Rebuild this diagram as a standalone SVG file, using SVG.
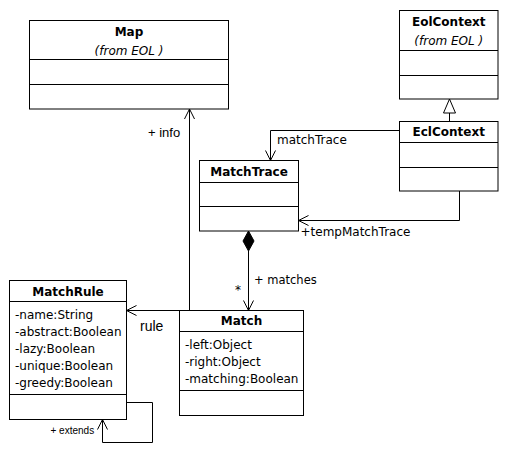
<svg xmlns="http://www.w3.org/2000/svg" width="506" height="449" viewBox="0 0 506 449">
<style>
.box{fill:#fff;stroke:#000;stroke-width:1}
.div{stroke:#000;stroke-width:1}
.t{font-family:"DejaVu Sans",Verdana,sans-serif;font-size:12px;font-weight:bold;text-anchor:middle}
.f{font-family:"DejaVu Sans",Verdana,sans-serif;font-size:12px;font-style:italic;text-anchor:middle}
.a{font-family:"DejaVu Sans",Verdana,sans-serif;font-size:12px}
.l{font-family:"DejaVu Sans",Verdana,sans-serif;font-size:12px}
.la{font-family:"Liberation Sans",Arial,sans-serif;font-size:13px}
.ln{fill:none;stroke:#000;stroke-width:1}
</style>
<rect width="506" height="449" fill="#fff"/>
<g id="Map">
<rect class="box" x="29.5" y="20.5" width="199" height="88.5"/>
<line class="div" x1="29.5" y1="59.5" x2="228.5" y2="59.5"/>
<line class="div" x1="29.5" y1="84.5" x2="228.5" y2="84.5"/>
<text class="t" x="129" y="36">Map</text>
<text class="f" x="129" y="55">(from EOL )</text>
</g>
<g id="EolContext">
<rect class="box" x="399.5" y="10.5" width="98.5" height="88.5"/>
<line class="div" x1="399.5" y1="50.5" x2="498" y2="50.5"/>
<line class="div" x1="399.5" y1="75.5" x2="498" y2="75.5"/>
<text class="t" x="448.75" y="26">EolContext</text>
<text class="f" x="448.75" y="45">(from EOL )</text>
</g>
<g id="EclContext">
<rect class="box" x="399.5" y="121.5" width="98.5" height="69.5"/>
<line class="div" x1="399.5" y1="142.5" x2="498" y2="142.5"/>
<line class="div" x1="399.5" y1="167.5" x2="498" y2="167.5"/>
<text class="t" x="448.75" y="136">EclContext</text>
</g>
<g id="MatchTrace">
<rect class="box" x="199.5" y="160.5" width="99" height="70.5"/>
<line class="div" x1="199.5" y1="182.5" x2="298.5" y2="182.5"/>
<line class="div" x1="199.5" y1="206.5" x2="298.5" y2="206.5"/>
<text class="t" x="249" y="176">MatchTrace</text>
</g>
<g id="MatchRule">
<rect class="box" x="9.5" y="280.5" width="117" height="139"/>
<line class="div" x1="9.5" y1="301.5" x2="126.5" y2="301.5"/>
<line class="div" x1="9.5" y1="394.5" x2="126.5" y2="394.5"/>
<text class="t" x="68" y="296">MatchRule</text>
<text class="a" x="15" y="319">-name:String</text>
<text class="a" x="15" y="336">-abstract:Boolean</text>
<text class="a" x="15" y="353">-lazy:Boolean</text>
<text class="a" x="15" y="370">-unique:Boolean</text>
<text class="a" x="15" y="387">-greedy:Boolean</text>
</g>
<g id="Match">
<rect class="box" x="179.5" y="310.5" width="124" height="105"/>
<line class="div" x1="179.5" y1="331.5" x2="303.5" y2="331.5"/>
<line class="div" x1="179.5" y1="390.5" x2="303.5" y2="390.5"/>
<text class="t" x="241.5" y="325">Match</text>
<text class="a" x="185" y="349">-left:Object</text>
<text class="a" x="185" y="366">-right:Object</text>
<text class="a" x="185" y="383">-matching:Boolean</text>
</g>
<g id="connectors">
<line class="ln" x1="189.5" y1="310.5" x2="189.5" y2="109"/>
<polyline class="ln" points="184.5,119 189.5,109 194.5,119"/>
<text class="la" x="148" y="136.5">+ info</text>
<line class="ln" x1="189.5" y1="310.5" x2="126.5" y2="310.5"/>
<polyline class="ln" points="136.5,305.5 126.5,310.5 136.5,315.5"/>
<text class="la" x="140" y="331" style="font-size:14px">rule</text>
<polygon points="248.5,231 254,241 248.5,251 243,241" fill="#000" stroke="#000"/>
<line class="ln" x1="248.5" y1="251" x2="248.5" y2="310.5"/>
<polyline class="ln" points="243.5,300.5 248.5,310.5 253.5,300.5"/>
<text class="l" x="254" y="284" style="font-size:11.5px">+ matches</text>
<text class="l" x="235" y="293.5">*</text>
<line class="ln" x1="449.5" y1="113" x2="449.5" y2="121.5"/>
<polygon points="449.5,99 455.5,113 443.5,113" fill="#fff" stroke="#000"/>
<polyline class="ln" points="399.5,130.5 270.5,130.5 270.5,160.5"/>
<polyline class="ln" points="265.5,150.5 270.5,160.5 275.5,150.5"/>
<text class="l" x="277" y="144">matchTrace</text>
<polyline class="ln" points="459.5,191 459.5,220.5 298.5,220.5"/>
<polyline class="ln" points="308.5,215.5 298.5,220.5 308.5,225.5"/>
<text class="l" x="300.5" y="236">+tempMatchTrace</text>
<polyline class="ln" points="126.5,402.5 152.5,402.5 152.5,442.5 102.5,442.5 102.5,419.5"/>
<polyline class="ln" points="97.5,429.5 102.5,419.5 107.5,429.5"/>
<text class="la" x="50.5" y="434" style="font-size:10px">+ extends</text>
</g>
</svg>
